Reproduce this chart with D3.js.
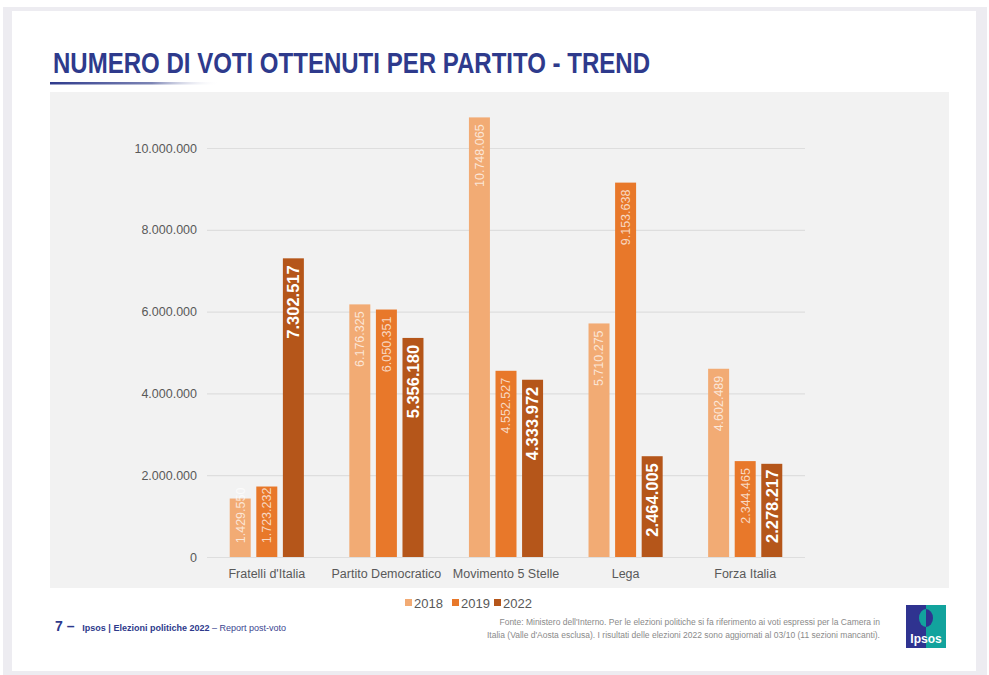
<!DOCTYPE html>
<html>
<head>
<meta charset="utf-8">
<script src="https://cdn.jsdelivr.net/npm/d3@7"></script>
<style>
  html, body { margin: 0; padding: 0; background: #fff; }
  svg { display: block; font-family: "Liberation Sans", Arial, sans-serif; }
</style>
</head>
<body>
<svg width="989" height="675"></svg>
<script>
// Dati del grafico
const partiti = ["Fratelli d'Italia", "Partito Democratico", "Movimento 5 Stelle", "Lega", "Forza Italia"];
const anni = ["2018", "2019", "2022"];
const voti2018 = [1429550, 6176325, 10748065, 5710275, 4602489];
const voti2019 = [1723232, 6050351, 4552527, 9153638, 2344465];
const voti2022 = [7302517, 5356180, 4333972, 2464005, 2278217];
const yTicks = [0, 2000000, 4000000, 6000000, 8000000, 10000000];

const serie = { "2018": voti2018, "2019": voti2019, "2022": voti2022 };
const colori = { "2018": "#f2ab74", "2019": "#e8782a", "2022": "#b5561a" };

const it = d3.formatLocale({ decimal: ",", thousands: ".", grouping: [3], currency: ["€", ""] });
const fmt = it.format(",d");

const svg = d3.select("svg");

// Cornice della slide
svg.append("rect").attr("x", 0).attr("y", 0).attr("width", 989).attr("height", 675).attr("fill", "#fff");
svg.append("rect").attr("x", 3).attr("y", 7).attr("width", 984).attr("height", 668).attr("fill", "#edecf1");
svg.append("rect").attr("x", 12).attr("y", 11).attr("width", 964).attr("height", 660).attr("fill", "#fff");

// Titolo (Arial Narrow simulato)
svg.append("text")
    .attr("x", 53).attr("y", 73)
    .attr("fill", "#2e3a8c")
    .style("font-family", "'Liberation Sans', Arial, sans-serif")
    .style("font-weight", "bold")
    .style("font-size", "30px")
    .attr("textLength", 597).attr("lengthAdjust", "spacingAndGlyphs")
    .text("NUMERO DI VOTI OTTENUTI PER PARTITO - TREND");

const grad = svg.append("defs").append("linearGradient").attr("id", "ul");
grad.append("stop").attr("offset", "0%").attr("stop-color", "#2e3a8c");
grad.append("stop").attr("offset", "60%").attr("stop-color", "#7d85b5");
grad.append("stop").attr("offset", "100%").attr("stop-color", "#fff").attr("stop-opacity", 0);
svg.append("rect").attr("x", 50).attr("y", 82).attr("width", 170).attr("height", 2.5).attr("fill", "url(#ul)");

// Pannello grigio
svg.append("rect").attr("x", 50).attr("y", 92).attr("width", 899).attr("height", 496).attr("fill", "#f2f2f2");

// Scale
const x0 = d3.scaleBand().domain(partiti).range([207, 805]);
const bw = x0.bandwidth();
const x1 = d3.scaleBand().domain(anni).range([bw * 0.19, bw * 0.81]).paddingInner(0.21);
const y = d3.scaleLinear().domain([0, 10000000]).range([557, 148]);

// Asse Y con griglia
const yAxis = svg.append("g")
    .attr("transform", "translate(207,0)")
    .call(d3.axisLeft(y).tickValues(yTicks).tickFormat(fmt).tickSize(-598).tickPadding(10));
yAxis.select(".domain").remove();
yAxis.selectAll(".tick line").attr("stroke", "#dedede").attr("stroke-width", 1.2);
yAxis.selectAll(".tick text").attr("fill", "#595959").style("font-size", "12.5px")
    .style("font-family", "'Liberation Sans', Arial, sans-serif");

// Barre
const righe = partiti.map((p, i) => ({ partito: p, valori: anni.map(a => ({ anno: a, v: serie[a][i] })) }));

const gruppi = svg.append("g").selectAll("g")
    .data(righe)
    .join("g")
    .attr("transform", d => `translate(${x0(d.partito)},0)`);

gruppi.selectAll("rect")
    .data(d => d.valori)
    .join("rect")
    .attr("x", d => x1(d.anno))
    .attr("y", d => y(d.v))
    .attr("width", x1.bandwidth())
    .attr("height", d => y(0) - y(d.v))
    .attr("fill", d => colori[d.anno]);

// Etichette dentro le barre
gruppi.selectAll("text")
    .data(d => d.valori)
    .join("text")
    .attr("transform", d => {
        const bold = d.anno === "2022";
        const len = fmt(d.v).length * (bold ? 8.6 : 6.6);
        const top = Math.min(y(d.v) + 7, y(0) - 10 - len);
        return `translate(${x1(d.anno) + x1.bandwidth() / 2},${top}) rotate(-90)`;
    })
    .attr("text-anchor", "end")
    .attr("dy", "0.35em")
    .attr("fill", d => d.anno === "2022" ? "#fff" : "rgba(255,255,255,0.72)")
    .style("font-weight", d => d.anno === "2022" ? "bold" : "normal")
    .style("font-size", d => d.anno === "2022" ? "16.5px" : "12.5px")
    .text(d => fmt(d.v));

// Etichette categorie
svg.append("g").selectAll("text")
    .data(partiti)
    .join("text")
    .attr("x", d => x0(d) + bw / 2)
    .attr("y", 578)
    .attr("text-anchor", "middle")
    .attr("fill", "#595959")
    .style("font-size", "12.5px")
    .text(d => d);

// Legenda
const leg = svg.append("g").attr("transform", "translate(405,603)");
const legX = [0, 47, 89];
anni.forEach((a, i) => {
    leg.append("rect").attr("x", legX[i]).attr("y", -4).attr("width", 7).attr("height", 7).attr("fill", colori[a]);
    leg.append("text").attr("x", legX[i] + 9).attr("y", 0).attr("dy", "0.35em")
        .attr("fill", "#595959").style("font-size", "13px").text(a);
});

// Piè di pagina
const foot = svg.append("text").attr("x", 55).attr("y", 631).attr("fill", "#2e3a8c");
foot.append("tspan").style("font-weight", "bold").style("font-size", "14px").text("7 – ");
foot.append("tspan").attr("dx", 4).style("font-weight", "bold").style("font-size", "9px").text("Ipsos | Elezioni politiche 2022");
foot.append("tspan").style("font-size", "9px").attr("fill", "#3a4590").text(" – Report post-voto");

svg.append("text").attr("x", 880).attr("y", 625).attr("text-anchor", "end")
    .attr("fill", "#8a8a8a").style("font-size", "8.5px")
    .text("Fonte: Ministero dell'Interno. Per le elezioni politiche si fa riferimento ai voti espressi per la Camera in");
svg.append("text").attr("x", 880).attr("y", 638).attr("text-anchor", "end")
    .attr("fill", "#8a8a8a").style("font-size", "8.5px")
    .text("Italia (Valle d'Aosta esclusa). I risultati delle elezioni 2022 sono aggiornati al 03/10 (11 sezioni mancanti).");

// Logo Ipsos
const logo = svg.append("g").attr("transform", "translate(906,605)");
logo.append("rect").attr("width", 40).attr("height", 43).attr("fill", "#2f3390");
logo.append("rect").attr("x", 20).attr("width", 20).attr("height", 43).attr("fill", "#12a39d");
logo.append("ellipse").attr("cx", 20).attr("cy", 13).attr("rx", 7).attr("ry", 9).attr("fill", "#12a39d");
logo.append("path").attr("d", "M20,4 a7,9 0 0,1 0,18 z").attr("fill", "#2f3390");
logo.append("text").attr("x", 20).attr("y", 38).attr("text-anchor", "middle")
    .attr("fill", "#fff").style("font-size", "12px").style("font-weight", "bold").text("Ipsos");
</script>
</body>
</html>
